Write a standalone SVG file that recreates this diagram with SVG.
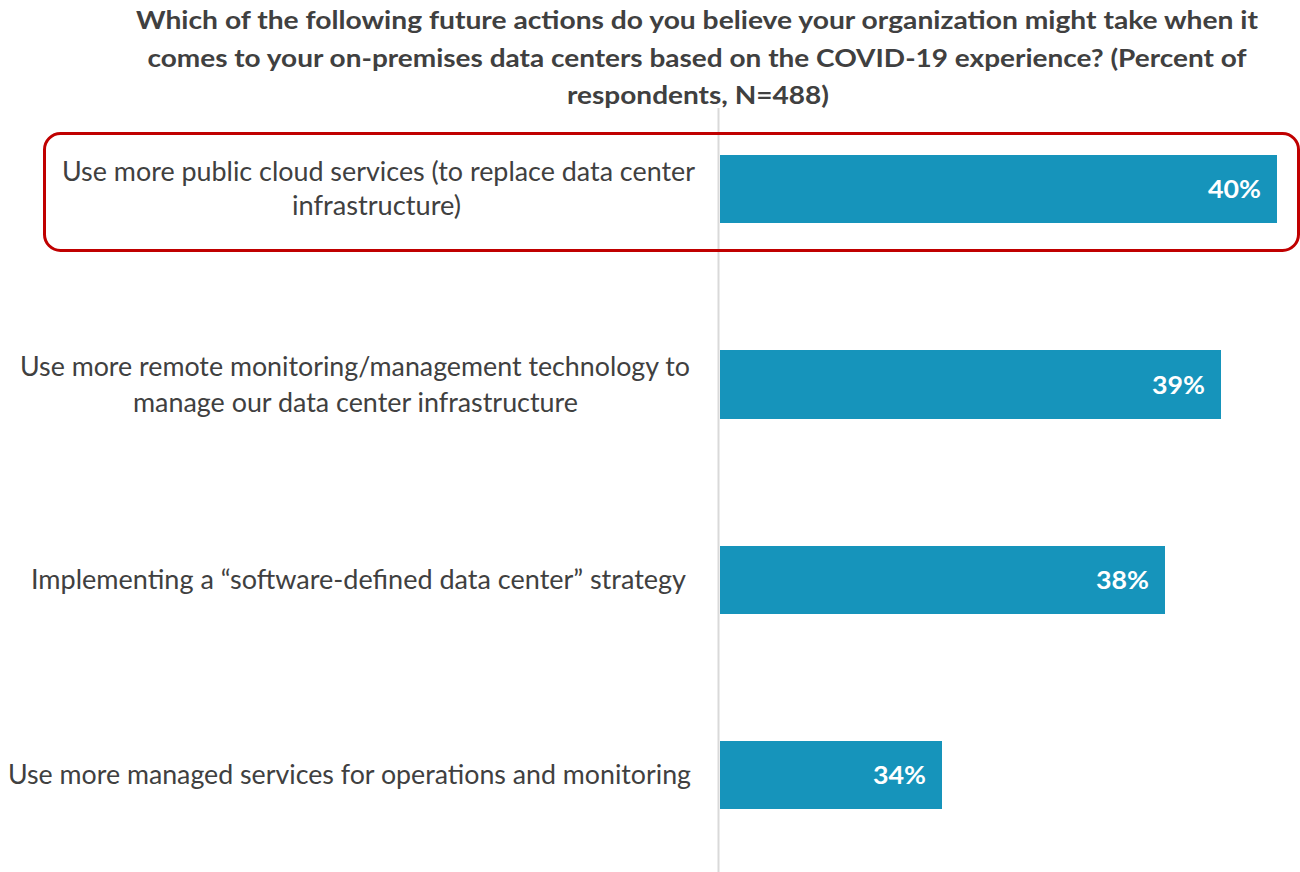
<svg xmlns="http://www.w3.org/2000/svg" width="1300" height="872" viewBox="0 0 1300 872">
<style>
.title{font-family:"Source Sans Pro",Lato,"Liberation Sans",sans-serif;font-weight:bold;font-size:24px;fill:#404040;text-anchor:middle}
.lbl{font-family:"Source Sans Pro",Lato,"Liberation Sans",sans-serif;font-size:26px;fill:#404040}
.bar{fill:#1694bb}
.val{font-family:"Source Sans Pro",Lato,"Liberation Sans",sans-serif;font-weight:bold;font-size:24px;fill:#ffffff;text-anchor:end}
</style>
<rect width="1300" height="872" fill="#ffffff"/>
<g id="title">
<text class="title" x="697" y="29" textLength="1122" lengthAdjust="spacingAndGlyphs">Which of the following future actions do you believe your organization might take when it</text>
<text class="title" x="697" y="67" textLength="1099" lengthAdjust="spacingAndGlyphs">comes to your on-premises data centers based on the COVID-19 experience? (Percent of</text>
<text class="title" x="698" y="104" textLength="262" lengthAdjust="spacingAndGlyphs">respondents, N=488)</text>
</g>
<g id="axis">
<line x1="718.5" y1="108" x2="718.5" y2="872" stroke="#d9d9d9" stroke-width="2"/>
</g>
<g id="row1">
<text class="lbl" x="695" y="181" text-anchor="end" textLength="633" lengthAdjust="spacingAndGlyphs">Use more public cloud services (to replace data center</text>
<text class="lbl" x="376.5" y="215" text-anchor="middle" textLength="169" lengthAdjust="spacingAndGlyphs">infrastructure)</text>
<rect class="bar" x="720" y="155" width="557" height="68"/>
<text class="val" x="1261" y="198" textLength="53" lengthAdjust="spacingAndGlyphs">40%</text>
</g>
<g id="row2">
<text class="lbl" x="690" y="376" text-anchor="end" textLength="670" lengthAdjust="spacingAndGlyphs">Use more remote monitoring/management technology to</text>
<text class="lbl" x="355.5" y="412" text-anchor="middle" textLength="445" lengthAdjust="spacingAndGlyphs">manage our data center infrastructure</text>
<rect class="bar" x="720" y="350" width="501" height="69"/>
<text class="val" x="1205" y="394" textLength="53" lengthAdjust="spacingAndGlyphs">39%</text>
</g>
<g id="row3">
<text class="lbl" x="686" y="589" text-anchor="end" textLength="655" lengthAdjust="spacingAndGlyphs">Implementing a “software-defined data center” strategy</text>
<rect class="bar" x="720" y="546" width="445" height="68"/>
<text class="val" x="1149" y="589" textLength="53" lengthAdjust="spacingAndGlyphs">38%</text>
</g>
<g id="row4">
<text class="lbl" x="691" y="784" text-anchor="end" textLength="683" lengthAdjust="spacingAndGlyphs">Use more managed services for operations and monitoring</text>
<rect class="bar" x="720" y="741" width="222" height="68"/>
<text class="val" x="926" y="784" textLength="53" lengthAdjust="spacingAndGlyphs">34%</text>
</g>
<g id="highlight">
<rect x="44.5" y="133.5" width="1254" height="117" rx="16" ry="16" fill="none" stroke="#c00000" stroke-width="3"/>
</g>
</svg>
